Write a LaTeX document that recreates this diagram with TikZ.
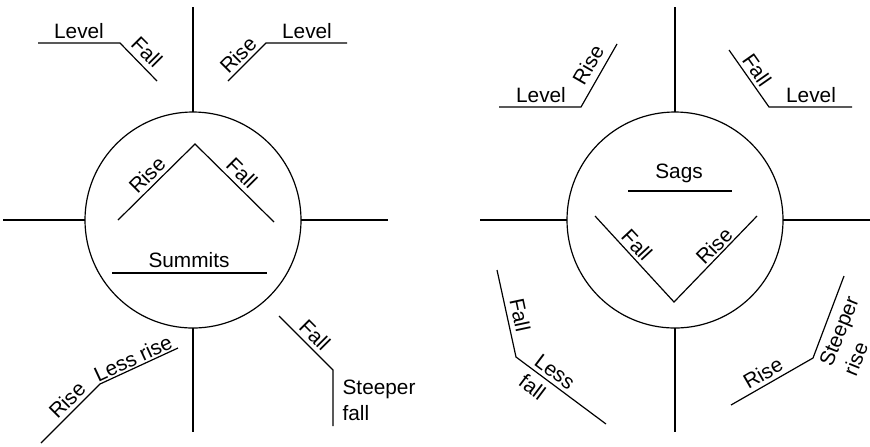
\documentclass[tikz,border=0pt]{standalone}
\usepackage{fontspec}
\setmainfont{Liberation Sans}
\usepackage{tikz}

\begin{document}
\begin{tikzpicture}[x=0.5pt,y=-0.5pt,line width=0.6pt,
    lbl/.style={font=\fontsize{10.4}{13}\selectfont,inner sep=0pt}]
    \useasboundingbox (0,0) rectangle (870,446);
    % summits
    \draw (193,220) circle[radius=108];
    \draw (193,7)--(193,112); \draw (193,328)--(193,432);
    \draw (3,220)--(85,220); \draw (301,220)--(388,220);
    \draw (118,220)--(195,144)--(274,222);
    \draw (112,273)--(267,273);
    \node[lbl] (summits) at (189,260) {Summits};
    \node[lbl,rotate=45] (srise) at (147,175) {Rise};
    \node[lbl,rotate=-45] (sfall) at (242,173) {Fall};
    \draw (38,43)--(120,43)--(157,81);
    \node[lbl] (lvla) at (79,31) {Level};
    \node[lbl,rotate=-45] (falla) at (147,52) {Fall};
    \draw (228,81)--(266,43)--(347,43);
    \node[lbl,rotate=45] (risea) at (238,55) {Rise};
    \node[lbl] (lvlb) at (307,31) {Level};
    \draw (41,443)--(100,384)--(178,348);
    \node[lbl,rotate=45] (riseb) at (67,400) {Rise};
    \node[lbl,rotate=25] (lessrise) at (133,358) {Less rise};
    \draw (279,316)--(333,370)--(333,426);
    \node[lbl,rotate=-45] (fallb) at (315,335) {Fall};
    \node[lbl,anchor=west,align=left] (steepfall) at (342,400) {Steeper\\fall};
    % sags
    \draw (675,220) circle[radius=108];
    \draw (675,7)--(675,112); \draw (675,328)--(675,432);
    \draw (480,220)--(567,220); \draw (783,220)--(870,220);
    \draw (595,216)--(674,302)--(757,216);
    \draw (628,191)--(732,191);
    \node[lbl] (sags) at (679,173) {Sags};
    \node[lbl,rotate=-47] (gfall) at (637,245) {Fall};
    \node[lbl,rotate=45] (grise) at (714,246) {Rise};
    \draw (499,107)--(581,107)--(617,44);
    \node[lbl] (lvlc) at (541,95) {Level};
    \node[lbl,rotate=60] (risec) at (588,65) {Rise};
    \draw (729,50)--(769,107)--(852,107);
    \node[lbl,rotate=-55] (fallc) at (757,70) {Fall};
    \node[lbl] (lvld) at (811,95) {Level};
    \draw (497,270)--(516,357)--(606,424);
    \node[lbl,rotate=-78] (falld) at (520,315) {Fall};
    \node[lbl,rotate=-37,align=left] (lessfall) at (547,382) {Less\\fall};
    \draw (731,405)--(813,358)--(844,276);
    \node[lbl,rotate=30] (rised) at (763,373) {Rise};
    \node[lbl,rotate=68,align=left] (steeprise) at (851,336) {Steeper\\rise};
\end{tikzpicture}
\end{document}
